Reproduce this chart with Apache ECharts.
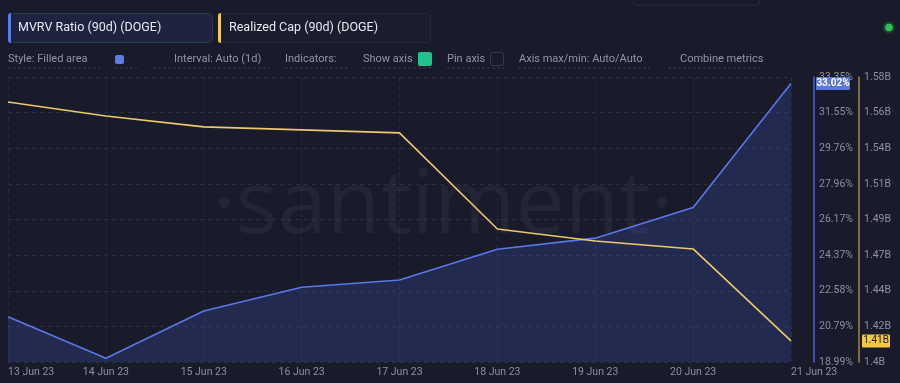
<!DOCTYPE html>
<html>
<head>
<meta charset="utf-8">
<script src="https://cdn.jsdelivr.net/npm/echarts@6/dist/echarts.min.js"></script>
<style>
html,body{margin:0;padding:0;background:#191b2a;}
#c{width:900px;height:383px;}
</style>
</head>
<body>
<div id="c"></div>
<script>
// ---- data ----
const categories = ['13 Jun 23','14 Jun 23','15 Jun 23','16 Jun 23','17 Jun 23','18 Jun 23','19 Jun 23','20 Jun 23','21 Jun 23'];
const mvrvValues = [21.27, 19.18, 21.56, 22.76, 23.12, 24.67, 25.23, 26.77, 33.02];
const realizedCapValues = [1.5642, 1.5554, 1.5485, 1.5466, 1.5447, 1.4840, 1.4764, 1.4714, 1.4133];
const mvrvTickLabels = ['18.99%','20.79%','22.58%','24.37%','26.17%','27.96%','29.76%','31.55%','33.35%'];
const capTickLabels = ['1.4B','1.42B','1.44B','1.47B','1.49B','1.51B','1.54B','1.56B','1.58B'];
const mvrvMin = 18.99, mvrvMax = 33.35;
const capMin = 1.40, capMax = 1.58;

const mvrvTicks = mvrvTickLabels.map((_, i) => mvrvMin + i * (mvrvMax - mvrvMin) / 8);
const capTicks = capTickLabels.map((_, i) => capMin + i * (capMax - capMin) / 8);
function labelFor(ticks, labels) {
  return function (v) {
    let best = 0, d = Infinity;
    ticks.forEach((t, i) => { const dd = Math.abs(t - v); if (dd < d) { d = dd; best = i; } });
    return labels[best];
  };
}

const chart = echarts.init(document.getElementById('c'), null, {renderer: 'canvas'});
const FONT = 'Roboto, "Noto Sans", sans-serif';
const labelColor = '#8a8fa3';

const option = {
  backgroundColor: '#191b2a',
  animation: false,
  grid: {left: 8, right: 109, top: 77, bottom: 21, containLabel: false},
  xAxis: {
    type: 'category',
    data: categories,
    boundaryGap: false,
    axisLine: {show: false},
    axisTick: {show: false},
    axisLabel: {color: labelColor, fontSize: 10.5, fontFamily: FONT, margin: 5,
      alignMinLabel: 'left', alignMaxLabel: 'left', interval: 0},
    splitLine: {show: true, lineStyle: {color: '#272b3d', type: [4, 4], width: 1}}
  },
  yAxis: [
    {
      type: 'value', position: 'right', offset: 23,
      min: mvrvMin, max: mvrvMax,
      axisLine: {show: true, lineStyle: {color: '#4a63c4', width: 1.5}},
      axisTick: {show: false},
      splitLine: {show: false},
      axisLabel: {color: labelColor, fontSize: 10.5, fontFamily: FONT, margin: 5,
        customValues: mvrvTicks, formatter: labelFor(mvrvTicks, mvrvTickLabels)}
    },
    {
      type: 'value', position: 'right', offset: 68,
      min: capMin, max: capMax,
      axisLine: {show: true, lineStyle: {color: '#9c8650', width: 1.5}},
      axisTick: {show: false},
      splitLine: {show: false},
      axisLabel: {color: labelColor, fontSize: 10.5, fontFamily: FONT, margin: 5,
        customValues: capTicks, formatter: labelFor(capTicks, capTickLabels)}
    },
    {
      type: 'value', position: 'left', min: 0, max: 8, interval: 1,
      axisLine: {show: false}, axisTick: {show: false}, axisLabel: {show: false},
      splitLine: {show: true, lineStyle: {color: '#2a2e41', type: [4, 4], width: 1}}
    }
  ],
  series: [
    {
      name: 'MVRV Ratio (90d) (DOGE)', type: 'line', yAxisIndex: 0,
      data: mvrvValues, symbol: 'none',
      lineStyle: {color: '#5a79e6', width: 1.6},
      areaStyle: {color: 'rgba(62,88,196,0.36)'},
      z: 3
    },
    {
      name: 'Realized Cap (90d) (DOGE)', type: 'line', yAxisIndex: 1,
      data: realizedCapValues, symbol: 'none',
      lineStyle: {color: '#ecc96c', width: 1.6},
      z: 4
    }
  ]
};
chart.setOption(option);

function controlText(x, text) {
  return {type: 'text', left: x, top: 54, silent: true,
    style: {text: text, fill: '#8f95a8', fontSize: 11, fontFamily: FONT}};
}
function dash(x1, x2) {
  return {type: 'line', silent: true, shape: {x1: x1, y1: 68, x2: x2, y2: 68},
    style: {stroke: '#363a4d', lineWidth: 1, lineDash: [3, 2]}};
}

const lastMvrv = mvrvValues[mvrvValues.length - 1];
const lastCap = realizedCapValues[realizedCapValues.length - 1];
const yMv = chart.convertToPixel({yAxisIndex: 0}, lastMvrv);
const yCap = chart.convertToPixel({yAxisIndex: 1}, lastCap);

const graphics = [
  // watermark
  {type: 'text', x: 443, y: 208, silent: true, z: 0,
    style: {text: '·santiment·', fill: 'rgba(150,165,210,0.07)', fontSize: 88,
      fontFamily: '"Open Sans", sans-serif', fontWeight: 400, align: 'center', verticalAlign: 'middle'}},
  // top faint element
  {type: 'rect', silent: true, shape: {x: 633, y: -20, width: 127, height: 25, r: 4},
    style: {fill: 'none', stroke: '#2a2d3d', lineWidth: 1}},
  // legend box 1
  {type: 'rect', silent: true, shape: {x: 8.5, y: 13.5, width: 204, height: 29, r: 4},
    style: {fill: '#1e2340', stroke: '#2d3659', lineWidth: 1}},
  {type: 'rect', silent: true, shape: {x: 8, y: 13, width: 3, height: 30, r: [3, 0, 0, 3]},
    style: {fill: '#5b7be8'}},
  {type: 'text', left: 18, top: 21, silent: true,
    style: {text: 'MVRV Ratio (90d) (DOGE)', fill: '#e8eaf2', fontSize: 12.5, fontFamily: FONT}},
  // legend box 2
  {type: 'rect', silent: true, shape: {x: 218.5, y: 13.5, width: 212, height: 29, r: 4},
    style: {fill: '#1a1d2d', stroke: '#262a3c', lineWidth: 1}},
  {type: 'rect', silent: true, shape: {x: 218, y: 13, width: 3, height: 30, r: [3, 0, 0, 3]},
    style: {fill: '#f2cc4a'}},
  {type: 'text', left: 229, top: 21, silent: true,
    style: {text: 'Realized Cap (90d) (DOGE)', fill: '#e8eaf2', fontSize: 12.5, fontFamily: FONT}},
  // status dot
  {type: 'circle', silent: true, shape: {cx: 889, cy: 27.5, r: 6}, style: {fill: '#1d3f2c'}},
  {type: 'circle', silent: true, shape: {cx: 889, cy: 27.5, r: 3.8}, style: {fill: '#27c45a'}},
  // control row
  controlText(8, 'Style: Filled area'), dash(8, 100),
  {type: 'rect', silent: true, shape: {x: 115, y: 55, width: 9, height: 9, r: 2}, style: {fill: '#5b7be8'}},
  dash(115, 137),
  controlText(174, 'Interval: Auto (1d)'), dash(153, 270),
  controlText(285, 'Indicators:'), dash(285, 348),
  controlText(363, 'Show axis'),
  {type: 'rect', silent: true, shape: {x: 418, y: 52, width: 14, height: 14, r: 2}, style: {fill: '#1fc38d'}},
  dash(363, 432),
  controlText(447, 'Pin axis'),
  {type: 'rect', silent: true, shape: {x: 490.5, y: 52.5, width: 13, height: 13, r: 2},
    style: {fill: 'none', stroke: '#34384a', lineWidth: 1}},
  dash(447, 504),
  controlText(519, 'Axis max/min: Auto/Auto'), dash(518, 650),
  controlText(680, 'Combine metrics'), dash(668, 760),
  // value badges
  {type: 'rect', silent: true, z: 10, shape: {x: 816, y: yMv - 6.5, width: 34, height: 13, r: 1},
    style: {fill: '#5a78e2'}},
  {type: 'text', silent: true, z: 11, x: 833, y: yMv,
    style: {text: lastMvrv.toFixed(2) + '%', fill: '#ffffff', fontSize: 10, fontWeight: 'bold',
      fontFamily: FONT, align: 'center', verticalAlign: 'middle'}},
  {type: 'rect', silent: true, z: 10, shape: {x: 862, y: yCap - 6.5, width: 28, height: 13, r: 1},
    style: {fill: '#f4c842'}},
  {type: 'text', silent: true, z: 11, x: 876, y: yCap,
    style: {text: lastCap.toFixed(2) + 'B', fill: '#1a1a1a', fontSize: 10,
      fontFamily: FONT, align: 'center', verticalAlign: 'middle'}}
];
chart.setOption({graphic: graphics});
</script>
</body>
</html>
